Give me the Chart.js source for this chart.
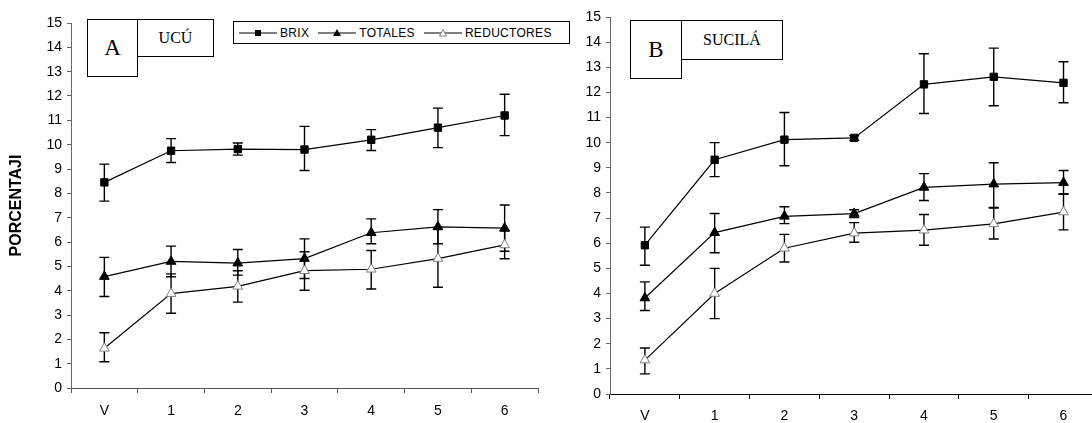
<!DOCTYPE html>
<html>
<head>
<meta charset="utf-8">
<script src="https://cdn.jsdelivr.net/npm/chart.js@4.4.1/dist/chart.umd.min.js"></script>
<style>
  html, body { margin: 0; padding: 0; background: #fff; }
  body { width: 1092px; height: 423px; overflow: hidden; position: relative; }
  .wrap { position: absolute; top: 0; }
  .box {
    position: absolute; box-sizing: border-box; border: 1px solid #000; background: #fff;
    font-family: "Times New Roman", "Liberation Serif", serif; color: #000;
    display: flex; align-items: center; justify-content: center; z-index: 3;
  }
  .big { font-size: 23px; }
  .name { font-size: 16px; }
  #legend {
    position: absolute; left: 233px; top: 21px; width: 337px; height: 23px;
    box-sizing: border-box; border: 1px solid #000; background: #fff; z-index: 3;
    font: 12px Arial, "Liberation Sans", sans-serif; color: #000;
    display: flex; align-items: center; padding-left: 5px;
  }
  #legend .item { display: flex; align-items: center; margin-right: 9px; letter-spacing: 0.3px; }
  #legend svg { margin-right: 3px; }
</style>
</head>
<body>
<div class="wrap" style="left:0;width:600px;height:423px;"><canvas id="chartA" width="600" height="423"></canvas></div>
<div class="wrap" style="left:545px;width:560px;height:423px;"><canvas id="chartB" width="560" height="423"></canvas></div>

<div class="box big" style="left:87px;top:19px;width:51px;height:58px;">A</div>
<div class="box name" style="left:137px;top:19px;width:77px;height:38px;">UCÚ</div>
<div class="box big" style="left:630px;top:20px;width:52px;height:59px;">B</div>
<div class="box name" style="left:681px;top:20px;width:102px;height:40px;">SUCILÁ</div>
<div id="legend"></div>

<script>
// categories (sampling stage)
const stages = ["V", "1", "2", "3", "4", "5", "6"];
const seriesNames = ["BRIX", "TOTALES", "REDUCTORES"];
const yTitle = "PORCENTAJI";

// Panel A - UCÚ
const brixA = [8.45, 9.75, 9.82, 9.8, 10.2, 10.7, 11.2];
const brixAHi = [9.2, 10.25, 10.07, 10.75, 10.62, 11.5, 12.07];
const brixALo = [7.68, 9.27, 9.57, 8.94, 9.76, 9.88, 10.37];
const totA = [4.58, 5.2, 5.13, 5.32, 6.38, 6.62, 6.57];
const totAHi = [5.37, 5.83, 5.69, 6.13, 6.95, 7.33, 7.52];
const totALo = [3.76, 4.57, 4.64, 4.5, 5.93, 5.93, 5.62];
const redA = [1.63, 3.88, 4.18, 4.82, 4.88, 5.32, 5.88];
const redAHi = [2.27, 4.69, 4.82, 5.6, 5.65, 6.52, 6.45];
const redALo = [1.08, 3.07, 3.53, 4.02, 4.07, 4.14, 5.31];

// Panel B - SUCILÁ
const brixB = [5.92, 9.32, 10.12, 10.19, 12.32, 12.62, 12.38];
const brixBHi = [6.64, 10.0, 11.2, 10.28, 13.54, 13.76, 13.22];
const brixBLo = [5.12, 8.65, 9.08, 10.09, 11.16, 11.47, 11.59];
const totB = [3.82, 6.42, 7.07, 7.18, 8.22, 8.35, 8.41];
const totBHi = [4.46, 7.18, 7.45, 7.33, 8.77, 9.2, 8.89];
const totBLo = [3.32, 5.62, 6.78, 7.02, 7.7, 7.4, 7.96];
const redB = [1.35, 4.0, 5.8, 6.4, 6.52, 6.77, 7.24];
const redBHi = [1.83, 5.0, 6.35, 6.82, 7.14, 7.42, 7.96];
const redBLo = [0.8, 3.0, 5.25, 6.04, 5.92, 6.17, 6.53];

Chart.defaults.font.family = 'Arial, "Liberation Sans", sans-serif';
Chart.defaults.color = "#000";

// marker styles per series
const styles = [
  { pointStyle: "rect", pointRadius: 5.2, bg: "#000", border: "#000" },
  { pointStyle: "triangle", pointRadius: 5.6, bg: "#000", border: "#000" },
  { pointStyle: "triangle", pointRadius: 5.6, bg: "#fff", border: "#808080" },
];

// vertical error bars with caps, drawn under the markers
const errorBars = {
  id: "errorBars",
  beforeDatasetsDraw(chart) {
    const { ctx } = chart;
    const xs = chart.scales.x, ys = chart.scales.y;
    ctx.save();
    ctx.strokeStyle = "#000";
    ctx.lineWidth = 1.4;
    chart.data.datasets.forEach((ds) => {
      ds.data.forEach((v, i) => {
        const px = xs.getPixelForValue(i);
        const top = ys.getPixelForValue(ds.errHi[i]);
        const bot = ys.getPixelForValue(ds.errLo[i]);
        ctx.beginPath();
        ctx.moveTo(px, top); ctx.lineTo(px, bot);
        ctx.moveTo(px - 5, top); ctx.lineTo(px + 5, top);
        ctx.moveTo(px - 5, bot); ctx.lineTo(px + 5, bot);
        ctx.stroke();
      });
    });
    ctx.restore();
  },
};

function makeDatasets(vals, his, los) {
  return vals.map((v, k) => ({
    label: seriesNames[k],
    data: v,
    errHi: his[k],
    errLo: los[k],
    borderColor: "#000",
    borderWidth: 1.2,
    pointStyle: styles[k].pointStyle,
    pointRadius: styles[k].pointRadius,
    pointBackgroundColor: styles[k].bg,
    pointBorderColor: styles[k].border,
    pointBorderWidth: 1,
    tension: 0,
    fill: false,
  }));
}

function makeChart(id, datasets, o) {
  return new Chart(document.getElementById(id), {
    type: "line",
    data: { labels: stages, datasets: datasets },
    options: {
      responsive: false,
      animation: false,
      layout: { padding: { top: o.top, right: o.right, left: 0, bottom: 0 } },
      plugins: { legend: { display: false }, tooltip: { enabled: false } },
      scales: {
        x: {
          offset: true,
          afterFit: (s) => { s.height = o.xh; },
          border: { color: o.xAxisColor, width: 1 },
          grid: { offset: true, drawOnChartArea: false, drawTicks: true, tickLength: 5, color: o.xAxisColor },
          ticks: { font: { size: 14 }, padding: o.xpad, maxRotation: 0, color: "#000" },
        },
        y: {
          min: 0,
          max: 15,
          afterFit: (s) => { s.width = o.yw; },
          border: { color: "#666", width: 1 },
          grid: { drawOnChartArea: false, drawTicks: true, tickLength: 4, color: "#666" },
          ticks: { stepSize: 1, font: { size: 14 }, padding: 5, color: "#000" },
          title: {
            display: o.title,
            text: yTitle,
            font: { size: 16, weight: "bold" },
            padding: { top: 7, bottom: 0 },
          },
        },
      },
    },
    plugins: [errorBars],
  });
}

makeChart("chartA",
  makeDatasets([brixA, totA, redA], [brixAHi, totAHi, redAHi], [brixALo, totALo, redALo]),
  { top: 23, right: 62, xh: 35, yw: 71, xpad: 10, title: true, xAxisColor: "#555" });

makeChart("chartB",
  makeDatasets([brixB, totB, redB], [brixBHi, totBHi, redBHi], [brixBLo, totBLo, redBLo]),
  { top: 17, right: 4, xh: 29, yw: 65, xpad: 9, title: false, xAxisColor: "#000" });

// legend for panel A
const legend = document.getElementById("legend");
const markerSvg = [
  '<rect x="16" y="2" width="6" height="6" fill="#000"/>',
  '<polygon points="19,1 23,8 15,8" fill="#000"/>',
  '<polygon points="19,1.5 22.5,8 15.5,8" fill="#fff" stroke="#808080" stroke-width="1"/>',
];
seriesNames.forEach((name, k) => {
  const item = document.createElement("span");
  item.className = "item";
  item.innerHTML =
    '<svg width="38" height="10"><line x1="0" y1="5" x2="38" y2="5" stroke="#000" stroke-width="1"/>' +
    markerSvg[k] + "</svg>" + name;
  legend.appendChild(item);
});
</script>
</body>
</html>
